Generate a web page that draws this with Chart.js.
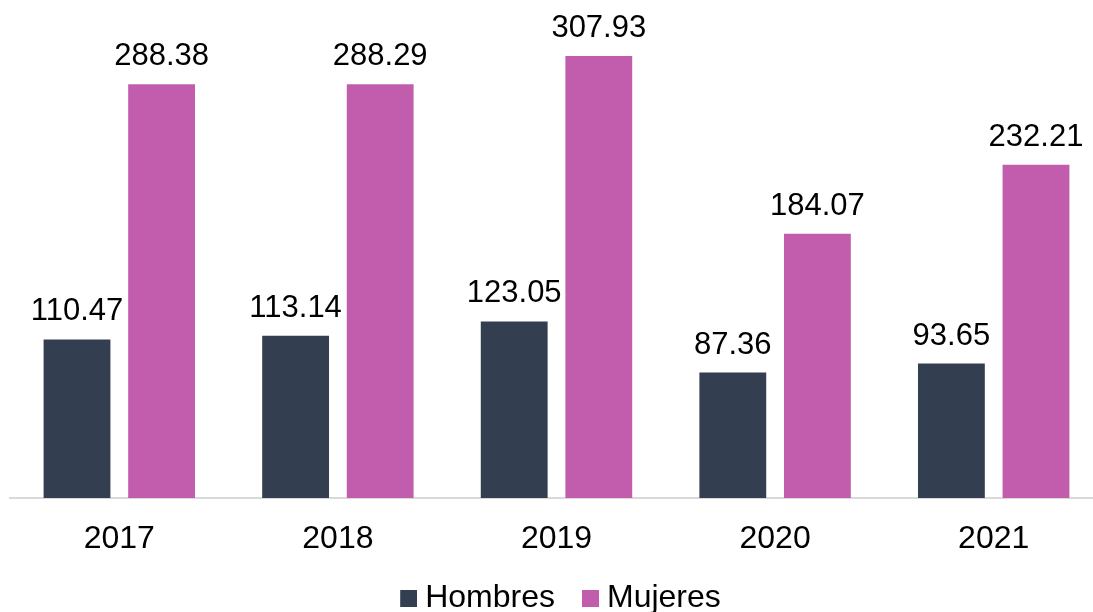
<!DOCTYPE html>
<html lang="es">
<head>
<meta charset="utf-8">
<title>Hombres y Mujeres 2017-2021</title>
<script src="https://cdn.jsdelivr.net/npm/chart.js@4.4.1/dist/chart.umd.min.js"></script>
<style>
    html, body {
        margin: 0;
        padding: 0;
        background: #ffffff;
        overflow: hidden;
    }

    #wrap {
        position: relative;
        width: 1103px;
        height: 624px;
    }
</style>
</head>
<body>

<div id="wrap">
    <canvas id="barChart"></canvas>
</div>

<script>

/* ===============================
   DATA
=============================== */

const years = ["2017", "2018", "2019", "2020", "2021"];

const hombres = [110.47, 113.14, 123.05, 87.36, 93.65];
const mujeres = [288.38, 288.29, 307.93, 184.07, 232.21];

const seriesNames = ["Hombres", "Mujeres"];
const seriesColors = ["#333f50", "#c25dae"];

const FONT = "'Liberation Sans', Arial, sans-serif";


/* ===============================
   LEGEND MARKER
   square drawn on the right side of a wider image
   so it sits close to its text
=============================== */

function legendSquare(color) {

    const c = document.createElement("canvas");
    c.width = 33;
    c.height = 17;

    const g = c.getContext("2d");
    g.fillStyle = color;
    g.fillRect(16, 0, 17, 17);

    return c;
}

const legendMarkers = seriesColors.map(legendSquare);


/* ===============================
   VALUE LABELS ABOVE BARS
=============================== */

const barValueLabels = {

    id: "barValueLabels",

    afterDatasetsDraw(chart) {

        const ctx = chart.ctx;

        ctx.save();
        ctx.font = "31px " + FONT;
        ctx.fillStyle = "#000000";
        ctx.textAlign = "center";
        ctx.textBaseline = "alphabetic";

        chart.data.datasets.forEach((ds, i) => {

            const meta = chart.getDatasetMeta(i);

            meta.data.forEach((bar, j) => {
                ctx.fillText(ds.data[j].toFixed(2), bar.x, bar.y - 19);
            });

        });

        ctx.restore();
    }

};


/* ===============================
   CREATE CHART
=============================== */

const ctx = document.getElementById("barChart").getContext("2d");

new Chart(ctx, {

    type: "bar",

    data: {

        labels: years,

        datasets: [

            {
                label: seriesNames[0],
                data: hombres,
                backgroundColor: seriesColors[0],
                borderWidth: 0,
                barPercentage: 0.79,
                categoryPercentage: 0.774
            },

            {
                label: seriesNames[1],
                data: mujeres,
                backgroundColor: seriesColors[1],
                borderWidth: 0,
                barPercentage: 0.79,
                categoryPercentage: 0.774
            }

        ]

    },

    options: {

        responsive: true,
        maintainAspectRatio: false,
        animation: false,

        layout: {
            padding: {
                left: 10,
                right: 0,
                top: 0,
                bottom: 0
            }
        },

        plugins: {

            legend: {
                position: "bottom",
                labels: {
                    usePointStyle: true,
                    pointStyleWidth: 17,
                    boxHeight: 17,
                    padding: 19,
                    color: "#000000",
                    font: {
                        family: FONT,
                        size: 32
                    },
                    generateLabels: function (chart) {
                        const items = Chart.defaults.plugins.legend.labels.generateLabels(chart);
                        items.forEach((item, i) => {
                            item.pointStyle = legendMarkers[i];
                        });
                        return items;
                    }
                }
            },

            tooltip: {
                enabled: false
            }

        },

        scales: {

            x: {

                grid: {
                    display: false,
                    drawTicks: false
                },

                border: {
                    display: true,
                    color: "#d9d9d9",
                    width: 2
                },

                ticks: {
                    color: "#000000",
                    padding: 22,
                    font: {
                        family: FONT,
                        size: 32
                    }
                },

                afterFit: function (scale) {
                    scale.height = 65;
                }

            },

            y: {
                display: false,
                min: 0,
                max: 347
            }

        }

    },

    plugins: [barValueLabels]

});

</script>
</body>
</html>
